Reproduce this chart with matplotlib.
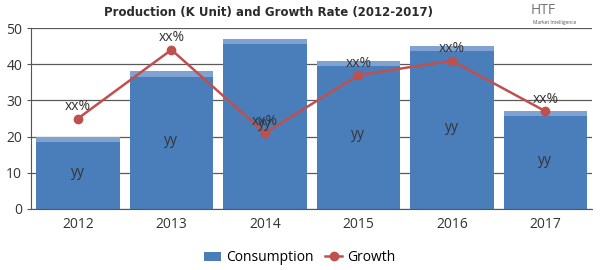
import matplotlib
matplotlib.use("Agg")
import matplotlib.pyplot as plt
import numpy as np

years = ["2012", "2013", "2014", "2015", "2016", "2017"]
consumption = [20, 38, 47, 41, 45, 27]
growth = [25, 44, 21, 37, 41, 27]
bar_labels = ["yy"] * 6
growth_labels = ["xx%"] * 6

plt.rcParams['font.family'] = ['Open Sans', 'DejaVu Sans']

fig = plt.figure(figsize=(6, 2.7), dpi=100)
ax = fig.add_axes([0.052, 0.226, 0.935, 0.670])
x = np.arange(len(years))

bar_color = "#4A7EBB"
line_color = "#C0504D"
ax.set_axisbelow(True)
ax.yaxis.grid(True, color="#5A5A5A", linewidth=0.9)
bars = ax.bar(x, consumption, width=0.89, color=bar_color, label="Consumption", zorder=2)
# lighter bevel at the top of each bar
ax.bar(x, [1.4] * len(x), width=0.89, bottom=np.array(consumption) - 1.4,
       color="#7FA2D2", zorder=2)
line, = ax.plot(x, growth, color=line_color, linewidth=1.8, marker="o", markersize=6,
                label="Growth", zorder=3)

for xi, v, t in zip(x, consumption, bar_labels):
    ax.text(xi, v / 2, t, ha="center", va="center", fontsize=10, color="#333333", zorder=4)
for xi, v, t in zip(x, growth, growth_labels):
    ax.text(xi, v + 1.2, t, ha="center", va="bottom", fontsize=10, color="#333333", zorder=4)

ax.set_xlim(-0.5, len(x) - 0.5)
ax.set_ylim(0, 50)
ax.set_yticks([0, 10, 20, 30, 40, 50])
ax.set_xticks(x)
ax.set_xticklabels(years)
ax.tick_params(axis="both", labelsize=10, colors="#333333", length=3, color="#555555")
ax.tick_params(axis="x", length=0, pad=6)
for s in ["top", "right"]:
    ax.spines[s].set_visible(False)
ax.spines["left"].set_color("#555555")
ax.spines["bottom"].set_color("#555555")

fig.text(0.448, 0.955, "Production (K Unit) and Growth Rate (2012-2017)", ha="center", va="center",
         fontsize=8.5, fontweight="heavy", color="#2b2b2b",
         family=["DejaVu Sans"])
fig.text(0.905, 0.962, "HTF", ha="center", va="center", fontsize=10, color="#777777")
fig.text(0.925, 0.915, "Market Intelligence", ha="center", va="center", fontsize=3.5, color="#555555")

fig.legend([bars, line], ["Consumption", "Growth"], loc="center", bbox_to_anchor=(0.5, 0.045), ncol=2,
           frameon=False, fontsize=10, handlelength=1.2, columnspacing=0.8, handletextpad=0.4)

fig.savefig("out.png", dpi=100)
